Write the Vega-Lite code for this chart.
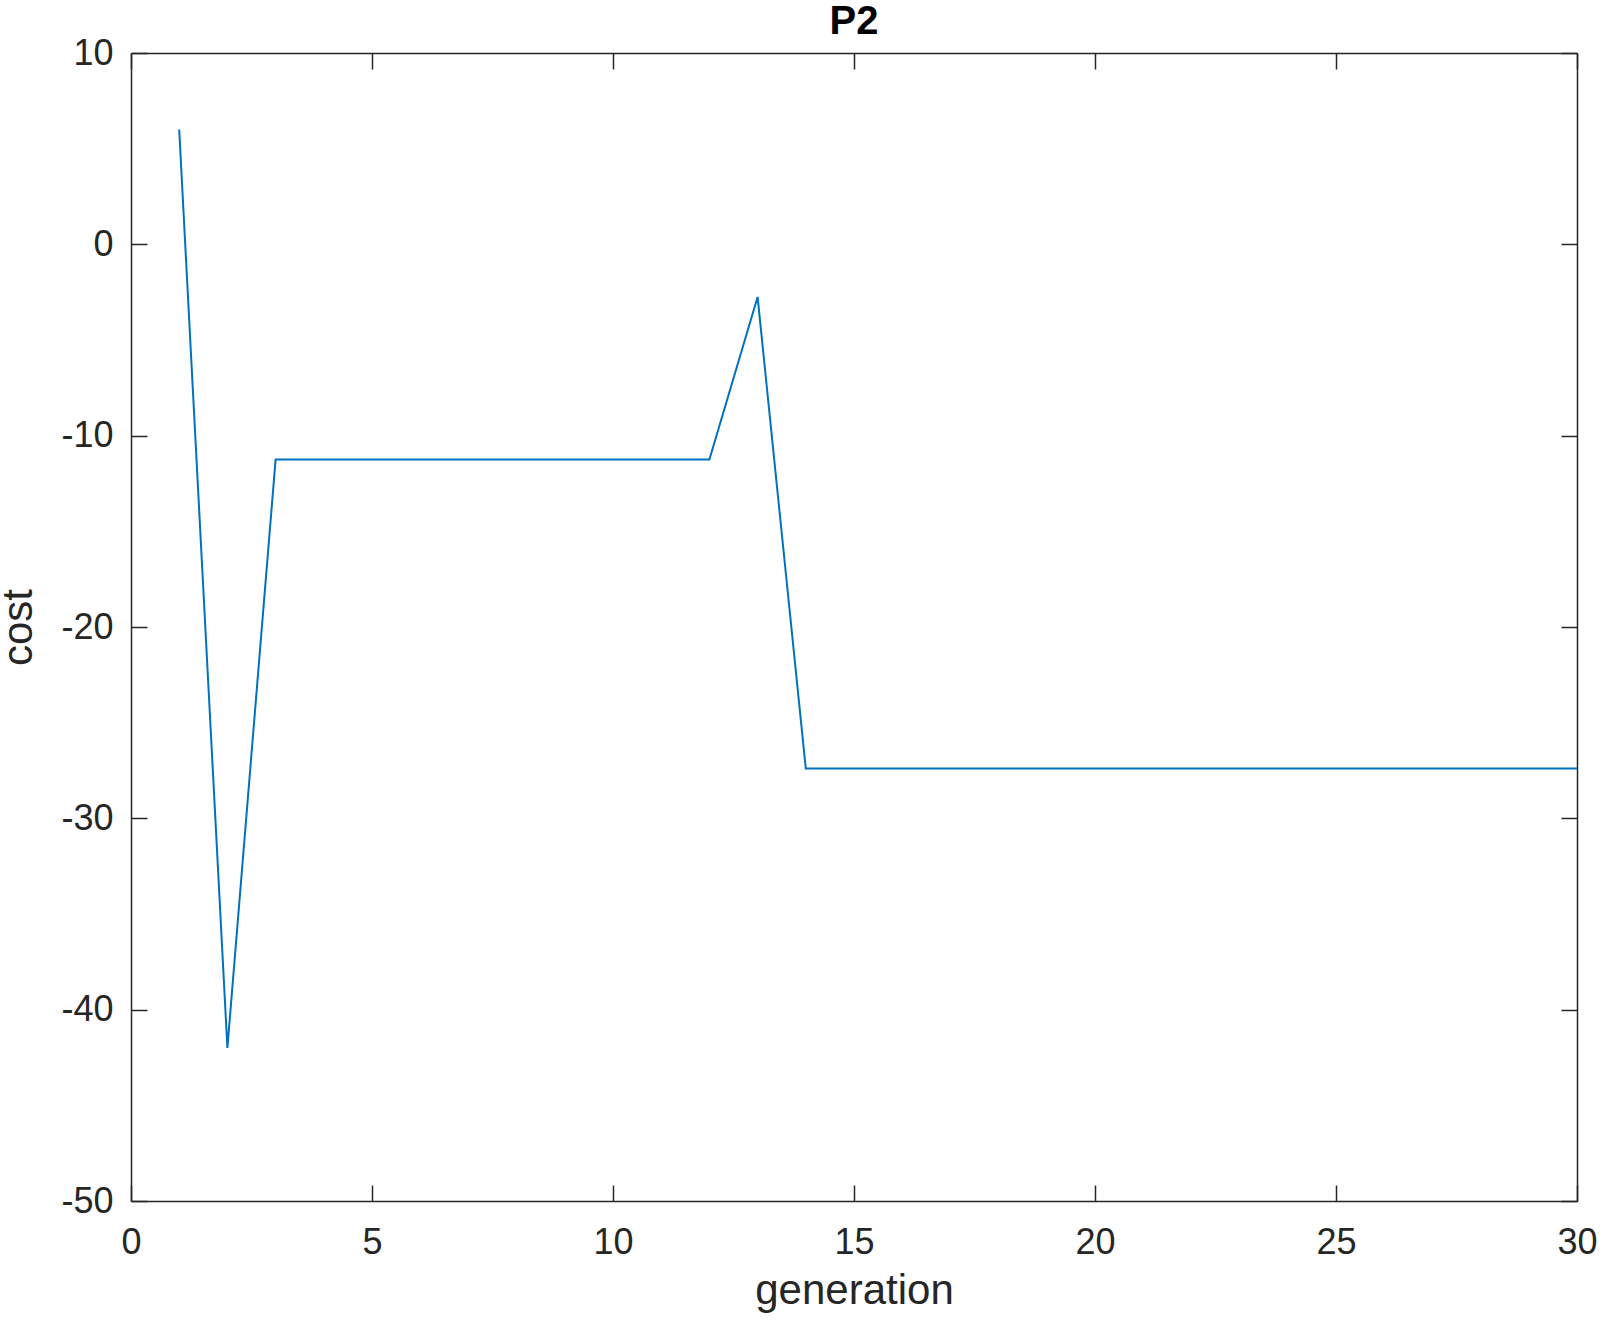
{
  "$schema": "https://vega.github.io/schema/vega-lite/v6.json",
  "width": 1446,
  "height": 1148,
  "autosize": {"type": "none"},
  "padding": {"left": 131, "top": 53, "right": 40, "bottom": 128},
  "background": "white",
  "config": {
    "view": {"stroke": null},
    "font": "Liberation Sans",
    "axis": {
      "grid": false,
      "domainColor": "#262626",
      "domainWidth": 1.5,
      "tickColor": "#262626",
      "tickWidth": 1.5,
      "tickSize": -16,
      "labelColor": "#262626",
      "labelFont": "Liberation Sans",
      "labelFontSize": 36,
      "titleColor": "#262626",
      "titleFont": "Liberation Sans",
      "titleFontSize": 42,
      "titleFontWeight": "normal"
    }
  },
  "title": {
    "text": "P2",
    "font": "Liberation Sans",
    "fontSize": 40,
    "fontWeight": "bold",
    "color": "black",
    "baseline": "bottom",
    "offset": -47
  },
  "data": {
    "values": [
      {"generation": 1, "cost": 6},
      {"generation": 2, "cost": -42},
      {"generation": 3, "cost": -11.25},
      {"generation": 4, "cost": -11.25},
      {"generation": 5, "cost": -11.25},
      {"generation": 6, "cost": -11.25},
      {"generation": 7, "cost": -11.25},
      {"generation": 8, "cost": -11.25},
      {"generation": 9, "cost": -11.25},
      {"generation": 10, "cost": -11.25},
      {"generation": 11, "cost": -11.25},
      {"generation": 12, "cost": -11.25},
      {"generation": 13, "cost": -2.75},
      {"generation": 14, "cost": -27.4},
      {"generation": 15, "cost": -27.4},
      {"generation": 16, "cost": -27.4},
      {"generation": 17, "cost": -27.4},
      {"generation": 18, "cost": -27.4},
      {"generation": 19, "cost": -27.4},
      {"generation": 20, "cost": -27.4},
      {"generation": 21, "cost": -27.4},
      {"generation": 22, "cost": -27.4},
      {"generation": 23, "cost": -27.4},
      {"generation": 24, "cost": -27.4},
      {"generation": 25, "cost": -27.4},
      {"generation": 26, "cost": -27.4},
      {"generation": 27, "cost": -27.4},
      {"generation": 28, "cost": -27.4},
      {"generation": 29, "cost": -27.4},
      {"generation": 30, "cost": -27.4}
    ]
  },
  "layer": [
    {
      "mark": {"type": "line", "color": "#0072BD", "strokeWidth": 2},
      "encoding": {
        "x": {
          "field": "generation",
          "type": "quantitative",
          "scale": {"domain": [0, 30], "nice": false, "zero": false},
          "axis": {"orient": "bottom", "values": [0, 5, 10, 15, 20, 25, 30], "labelExpr": "'' + datum.value", "labelPadding": 40, "titlePadding": 10, "labelFlush": false}
        },
        "y": {
          "field": "cost",
          "type": "quantitative",
          "scale": {"domain": [-50, 10], "nice": false, "zero": false},
          "axis": {"orient": "left", "values": [-50, -40, -30, -20, -10, 0, 10], "labelExpr": "'' + datum.value", "labelPadding": 34, "titlePadding": 20, "labelFlush": false}
        }
      }
    },
    {
      "mark": {"type": "line", "opacity": 0},
      "encoding": {
        "x": {
          "field": "generation",
          "type": "quantitative",
          "scale": {"domain": [0, 30], "nice": false, "zero": false},
          "axis": {"orient": "top", "values": [0, 5, 10, 15, 20, 25, 30], "labels": false, "title": null}
        },
        "y": {
          "field": "cost",
          "type": "quantitative",
          "scale": {"domain": [-50, 10], "nice": false, "zero": false},
          "axis": {"orient": "right", "values": [-50, -40, -30, -20, -10, 0, 10], "labels": false, "title": null}
        }
      }
    }
  ],
  "resolve": {"axis": {"x": "independent", "y": "independent"}}
}
